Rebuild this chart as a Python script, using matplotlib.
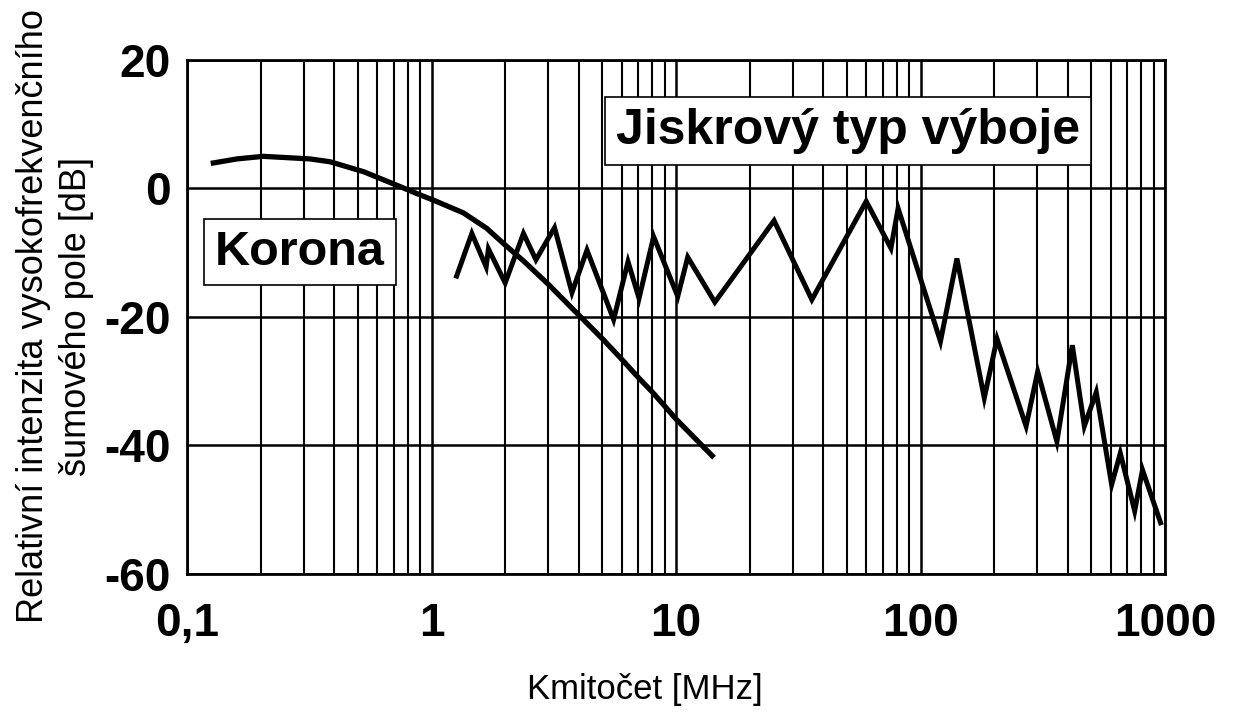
import numpy as np
import matplotlib
matplotlib.use("Agg")
import matplotlib.pyplot as plt
from matplotlib.ticker import FixedLocator, NullFormatter

plt.rcParams['font.family'] = ['Liberation Sans', 'DejaVu Sans']
plt.rcParams['axes.unicode_minus'] = False

# Korona - smooth curve
korona_f = [0.125, 0.16, 0.205, 0.318, 0.385, 0.528, 0.721, 0.871, 1.03,
            1.35, 1.68, 2.0, 2.38, 3.0, 4.0, 5.0, 6.0, 7.0, 8.0, 9.0, 10.0, 14.3]
korona_db = [3.9, 4.6, 5.0, 4.6, 4.15, 2.6, 0.5, -0.8, -1.9,
             -3.8, -6.2, -8.8, -11.3, -14.9, -19.7, -23.4, -26.6, -29.4, -31.7,
             -33.9, -35.9, -41.9]

# Jiskrový typ výboje - zigzag vertices
jiskra_f = [1.256, 1.461, 1.672, 1.708, 2.0, 2.376, 2.672, 3.184, 3.751, 4.321,
            5.553, 6.36, 7.056, 8.094, 10.16, 11.16, 14.41, 25.17, 35.92, 59.93,
            75.64, 80.95, 120.6, 140.8, 182.2, 205.4, 270.1, 301.3, 361.0, 417.5,
            467.5, 523.0, 604.6, 655.9, 751.0, 808.3, 966.0]
jiskra_db = [-14.0, -7.0, -12.2, -9.4, -14.7, -7.0, -11.1, -6.1, -16.2, -9.6,
             -20.4, -11.4, -17.1, -7.5, -16.8, -10.7, -17.7, -5.0, -17.3, -2.0,
             -9.3, -3.1, -23.8, -10.9, -32.6, -23.4, -37.0, -28.5, -39.4, -24.4,
             -37.0, -31.7, -46.1, -41.2, -50.2, -43.8, -52.4]

x_ticks = [0.1, 1, 10, 100, 1000]
x_labels = ['0,1', '1', '10', '100', '1000']
y_ticks = [20, 0, -20, -40, -60]

fig = plt.figure(figsize=(12.38, 7.19), dpi=100)
ax = fig.add_axes([0.1511, 0.2017, 0.79, 0.7149])

ax.set_xscale('log')
ax.set_xlim(0.1, 1000)
ax.set_ylim(-60, 20)

minor = [m * 10.0**e for e in range(-1, 3) for m in range(2, 10)]
ax.xaxis.set_minor_locator(FixedLocator(minor))
ax.xaxis.set_minor_formatter(NullFormatter())
ax.set_xticks(x_ticks)
ax.set_xticklabels(x_labels)
ax.set_yticks(y_ticks)
ax.set_yticklabels([str(v) for v in y_ticks])

ax.grid(True, which='major', color='black', lw=1.8)
ax.grid(True, which='minor', axis='x', color='black', lw=1.5)
ax.set_axisbelow(True)
for s in ax.spines.values():
    s.set_linewidth(2.0)

ax.tick_params(which='both', length=0)
ax.tick_params(axis='x', pad=20, labelsize=33)
ax.tick_params(axis='y', pad=12, labelsize=33)
for lab in ax.get_xticklabels() + ax.get_yticklabels():
    lab.set_fontweight('bold')

ax.plot(korona_f, korona_db, color='black', lw=3.8, solid_capstyle='butt',
        solid_joinstyle='round', zorder=3)
ax.plot(jiskra_f, jiskra_db, color='black', lw=3.6, solid_joinstyle='miter',
        solid_capstyle='butt', zorder=3)

box = dict(boxstyle='square,pad=0.22', facecolor='white', edgecolor='black', lw=1.2)
ax.text(0.1155, 0.626, 'Korona', transform=ax.transAxes, ha='center', va='center',
        fontsize=35, fontweight='bold', bbox=box, zorder=5)
ax.text(0.676, 0.861, 'Jiskrový typ výboje', transform=ax.transAxes, ha='center',
        va='center', fontsize=36, fontweight='bold', bbox=box, zorder=5)

fig.text(55 / 1238, 1 - 316 / 719,
         'Relativní intenzita vysokofrekvenčního\nšumového pole [dB]',
         rotation=90, ha='center', va='center', multialignment='center',
         fontsize=26, linespacing=1.3)
fig.text(645 / 1238, 1 - 690 / 719, 'Kmitočet [MHz]', ha='center', va='center',
         fontsize=25)

fig.savefig('out.png', dpi=100)
